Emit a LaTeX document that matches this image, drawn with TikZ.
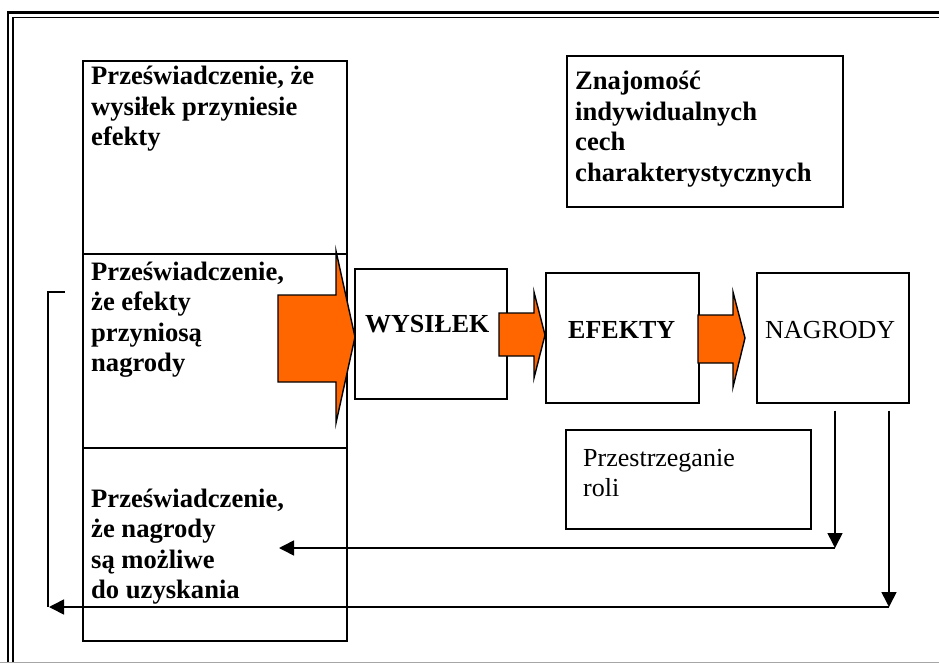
\documentclass[tikz,border=0pt]{standalone}
\usepackage{fontspec}
\setmainfont{Liberation Serif}
\usetikzlibrary{arrows.meta,calc}
\definecolor{orangeA}{HTML}{FF6600}
\tikzset{
  box/.style={draw=black,line width=1.6pt,fill=white,inner sep=0pt,anchor=north west},
  txt/.style={anchor=base west,inner sep=0pt},
  blockarrow/.style={fill=orangeA,draw=black,line width=1.4pt,line join=miter},
  conn/.style={draw=black,line width=1.6pt},
  connarrow/.style={conn,-{Triangle[length=15pt,width=15pt]}},
}
\newcommand{\tfont}{\fontsize{26}{30.5}\selectfont}
\newcommand{\bfont}{\fontsize{26.6}{30.5}\selectfont\bfseries}
\begin{document}
\begin{tikzpicture}[x=1pt,y=-1pt]
\useasboundingbox (0,0) rectangle (939,663);
\clip (0,0) rectangle (939,663);
% frame
\draw[line width=2.5pt] (7.8,700) -- (7.8,12.3) -- (1000,12.3);
\draw[line width=1.7pt] (12.8,700) -- (12.8,17.5) -- (1000,17.5);
\draw[gray!70,line width=1pt] (0,662) -- (939,662);
% left column
\node[box,minimum width=264pt,minimum height=193pt] (colA) at (82,60) {};
\node[box,minimum width=264pt,minimum height=194pt] (colB) at (82,253) {};
\node[box,minimum width=264pt,minimum height=193pt] (colC) at (82,447) {};
% other boxes
\node[box,minimum width=276pt,minimum height=151pt] (zna) at (566,55) {};
\node[box,minimum width=152pt,minimum height=130pt] (wys) at (354,268) {};
\node[box,minimum width=153pt,minimum height=130pt] (efe) at (545,272) {};
\node[box,minimum width=152pt,minimum height=130pt] (nag) at (756,272) {};
\node[box,minimum width=245pt,minimum height=99pt] (prz) at (565,429) {};
% block arrows
\draw[blockarrow] (278,295) -- (336,295) -- (336,251) -- (355,337) -- (336,423) -- (336,382) -- (278,382) -- cycle;
\draw[blockarrow] (499,313) -- (534,313) -- (534,292) -- (545,335) -- (534,378) -- (534,356) -- (499,356) -- cycle;
\draw[blockarrow] (698,315) -- (733,315) -- (733,292) -- (745,338) -- (733,387) -- (733,363) -- (698,363) -- cycle;
% texts
\node[txt] (tA) at (91,85) {\parbox[t]{250pt}{\raggedright\bfont Przeświadczenie, że\\wysiłek przyniesie\\efekty}};
\node[txt] (tB) at (91,280) {\parbox[t]{250pt}{\raggedright\bfont Przeświadczenie,\\że efekty\\przyniosą\\nagrody}};
\node[txt] (tC) at (91,507) {\parbox[t]{250pt}{\raggedright\bfont Przeświadczenie,\\że nagrody\\są możliwe\\do uzyskania}};
\node[txt] (tZ) at (575,90) {\parbox[t]{270pt}{\raggedright\bfont Znajomość\\indywidualnych\\cech\\charakterystycznych}};
\node[txt] (tW) at (365,332) {\tfont\bfseries WYSIŁEK};
\node[txt] (tE) at (568,338) {\tfont\bfseries EFEKTY};
\node[txt] (tN) at (765,338) {\tfont NAGRODY};
\node[txt] (tP) at (583,466) {\parbox[t]{220pt}{\raggedright\tfont Przestrzeganie\\roli}};
% connectors
\coordinate (n1) at ($(nag.south west)+(79,7)$);
\coordinate (n2) at ($(nag.south west)+(133,7)$);
\coordinate (c1) at (835,548);
\coordinate (c2) at (889,607);
\coordinate (e1) at (279,548);
\coordinate (e2) at (49,607);
\coordinate (b1) at (65,292);
\coordinate (b2) at (48,292);
\coordinate (b3) at (48,607);
\draw[connarrow] (n1) -- (c1);
\draw[connarrow] (c1) -- (e1);
\draw[connarrow] (n2) -- (c2);
\draw[connarrow] (c2) -- (e2);
\draw[conn] (b1) -- (b2) -- (b3);
\end{tikzpicture}
\end{document}
